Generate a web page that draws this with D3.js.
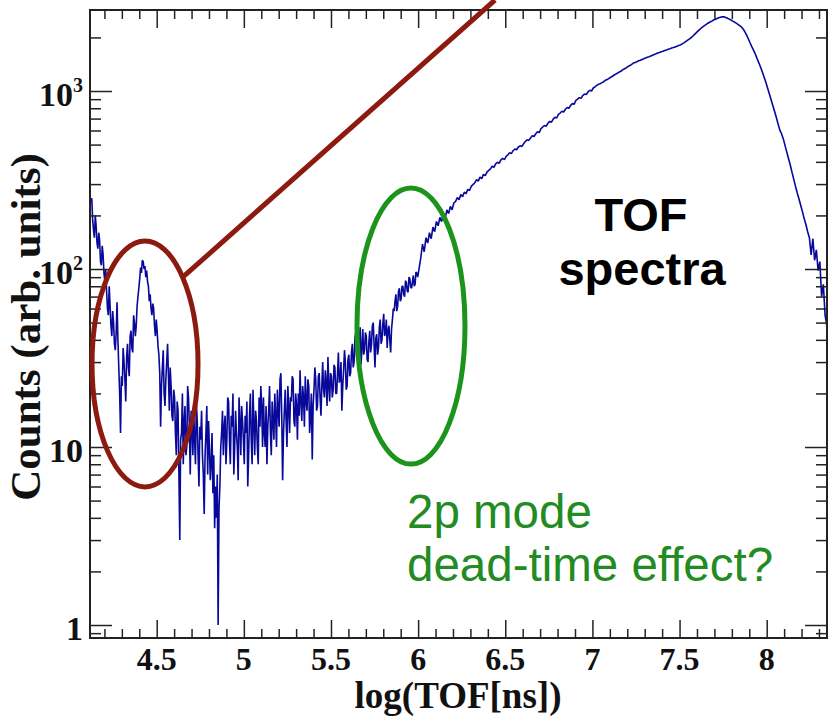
<!DOCTYPE html>
<html>
<head>
<meta charset="utf-8">
<script src="https://cdn.jsdelivr.net/npm/d3@7"></script>
<style>
  body { margin: 0; background: #fff; }
  .axis path { display: none; }
  .axis line { stroke: #222; stroke-width: 1.5; }
  .frame { fill: none; stroke: #222; stroke-width: 2; }
  .tick-label, .axis-title {
    font-family: "Liberation Serif", "Times New Roman", serif;
    font-weight: bold;
    fill: #111;
  }
  .note { font-family: "Liberation Sans", Arial, sans-serif; }
</style>
</head>
<body>
<div id="chart"></div>
<script>
// noisy low-TOF part: bins of 0.005 from 4.12 to 6.00
const fineStart = 4.12;
const fineWidth = 0.005;
const fineCounts = [
  235, 250, 190, 165, 150, 200, 175, 140, 130, 160, 145, 110, 105, 135, 120, 95, 85, 100,
  75, 60, 55, 80, 62, 48, 42, 58, 50, 38, 35, 44, 65, 40, 28, 20, 12, 25, 22, 36,
  30, 24, 18, 32, 38, 28, 25, 42, 45, 36, 34, 55, 50, 42, 48, 62, 70, 78, 88, 102,
  95, 112, 110, 100, 104, 90, 98, 85, 80, 66, 72, 60, 55, 64, 60, 48, 42, 52, 45, 37,
  33, 26, 13, 22, 28, 35, 20, 17, 24, 30, 38, 25, 16, 28, 22, 15, 14, 21, 19, 12,
  9, 18, 16, 7, 3.0, 11, 12, 20, 8, 14, 17, 9, 10, 22, 19, 13, 7, 16, 13, 9,
  16, 11, 8, 18, 14, 9, 6, 13, 11, 16, 9, 7, 4.2, 9, 12, 17, 7, 14, 10, 6.5,
  8, 12, 5.5, 9, 3.5, 6, 4.0, 7, 1.0, 4.5, 6, 10, 12, 16, 9, 13, 15, 8, 11, 19,
  18, 11, 8, 15, 13, 20, 7, 10, 16, 12, 10, 6.5, 19, 14, 9, 17, 14, 11, 8, 15,
  12, 18, 6, 9, 15, 20, 11, 8, 21, 14, 9, 16, 14, 10, 8, 19, 13, 22, 17, 10,
  19, 12, 10, 17, 8, 13, 16, 22, 12, 9, 18, 14, 11, 20, 15, 10, 21, 16, 13, 24,
  26, 15, 6.5, 12, 16, 21, 14, 10, 22, 17, 12, 19, 18, 25, 24, 14, 13, 20, 17, 11,
  20, 15, 27, 18, 14, 22, 19, 13, 25, 18, 16, 24, 22, 12, 15, 20, 8.5, 17, 21, 28,
  24, 16, 17, 25, 26, 19, 15, 22, 30, 21, 19, 27, 23, 17, 32, 22, 18, 26, 25, 19,
  21, 29, 28, 20, 20, 26, 34, 23, 24, 30, 16, 22, 27, 35, 30, 21, 22, 31, 33, 25,
  26, 34, 38, 28, 30, 41, 44, 32, 33, 27, 40, 47, 29, 36, 46, 33, 35, 44, 42, 31,
  30, 39, 45, 34, 38, 48, 50, 37, 28, 41, 43, 33, 36, 47, 52, 38, 40, 49, 56, 42,
  44, 52, 36, 45, 48, 40, 34, 46, 52, 60, 58, 66, 72, 58, 62, 75, 78, 66, 68, 80,
  80, 72, 70, 86, 84, 75, 74, 90, 88, 79, 78, 85, 92, 80, 82, 96, 95, 90
];

// smoother high-TOF part: bins of 0.01 from 6.00
const coarseStart = 6.0;
const coarseWidth = 0.01;
const coarseCounts = [
  100,
  115, 138, 125, 150, 140, 160, 148, 172, 162, 185,
  175, 195, 185, 205, 192, 215, 205, 225, 215, 235,
  240, 252, 245, 262, 255, 270, 265, 280, 276, 292,
  298, 305, 318, 312, 328, 322, 340, 335, 350, 358,
  365, 378, 372, 390, 398, 392, 410, 418, 412, 430,
  438, 450, 445, 462, 472, 468, 485, 492, 488, 505,
  520, 532, 528, 545, 560, 555, 575, 590, 584, 615,
  628, 640, 634, 660, 675, 668, 695, 712, 705, 740,
  752, 770, 762, 790, 808, 800, 830, 850, 842, 885,
  900, 918, 910, 945, 962, 955, 990, 1010, 1000, 1040,
  1055, 1075, 1090, 1100, 1115, 1128, 1150, 1160, 1178, 1195,
  1210, 1230, 1245, 1262, 1280, 1295, 1318, 1335, 1352, 1375,
  1390, 1412, 1436, 1448, 1462, 1478, 1490, 1505, 1520, 1535,
  1548, 1560, 1575, 1590, 1605, 1618, 1634, 1645, 1660, 1672,
  1688, 1700, 1715, 1728, 1745, 1755, 1770, 1785, 1800, 1815,
  1840, 1865, 1895, 1925, 1955, 1990, 2030, 2075, 2120, 2170,
  2215, 2260, 2300, 2340, 2375, 2410, 2440, 2470, 2505, 2530,
  2555, 2580, 2600, 2615, 2610, 2590, 2565, 2535, 2505, 2470,
  2440, 2405, 2370, 2330, 2290, 2230, 2150, 2060, 1960, 1860,
  1770, 1690, 1610, 1520, 1440, 1360, 1280, 1200, 1120, 1040,
  965, 895, 830, 770, 712, 655, 605, 575, 540, 495,
  455, 418, 385, 350, 320, 292, 268, 248, 228, 210,
  192, 178, 162, 150, 120, 148, 112, 128, 98, 110,
  70, 82, 55, 48
];

const xMajorTicks = [4.5, 5, 5.5, 6, 6.5, 7, 7.5, 8];
const xTickLabels = ["4.5", "5", "5.5", "6", "6.5", "7", "7.5", "8"];
const yMajorTicks = [1, 10, 100, 1000];
const yTickBase = ["1", "10", "10", "10"];
const yTickExp = ["", "", "2", "3"];

class TofChart {
  constructor(_config) {
    this.config = {
      parentElement: _config.parentElement,
      containerWidth: 829,
      containerHeight: 716,
      margin: { top: 10, right: 2, bottom: 78, left: 90 },
    };
    this.initVis();
  }

  initVis() {
    let vis = this;
    const m = vis.config.margin;
    vis.width = vis.config.containerWidth - m.left - m.right;
    vis.height = vis.config.containerHeight - m.top - m.bottom;

    vis.xScale = d3.scaleLinear().domain([4.1173, 8.346]).range([0, vis.width]);
    vis.yScale = d3.scaleLog().domain([0.8453, 2852]).range([vis.height, 0]);

    vis.svg = d3
      .select(vis.config.parentElement)
      .append("svg")
      .attr("width", vis.config.containerWidth)
      .attr("height", vis.config.containerHeight);

    vis.chart = vis.svg
      .append("g")
      .attr("transform", `translate(${m.left},${m.top})`);

    vis.svg
      .append("defs")
      .append("clipPath")
      .attr("id", "plot-clip")
      .append("rect")
      .attr("width", vis.width)
      .attr("height", vis.height);

    vis.renderVis();
  }

  renderVis() {
    let vis = this;

    // histogram, one point per bin centre
    const bins = fineCounts
      .map((c, i) => ({ x: fineStart + (i + 0.5) * fineWidth, y: c }))
      .concat(coarseCounts.map((c, i) => ({ x: coarseStart + (i + 0.5) * coarseWidth, y: c })));

    const line = d3
      .line()
      .x((d) => vis.xScale(d.x))
      .y((d) => vis.yScale(d.y));

    vis.chart
      .append("path")
      .datum(bins)
      .attr("clip-path", "url(#plot-clip)")
      .attr("fill", "none")
      .attr("stroke", "#08089a")
      .attr("stroke-width", 1.6)
      .attr("stroke-linejoin", "bevel")
      .attr("d", line);

    // axes: ticks on all four sides, pointing inwards
    const xMinor = d3.range(42, 84).map((d) => d / 10).filter((d) => !xMajorTicks.includes(d));
    const yMinor = vis.yScale.ticks().filter((d) => !yMajorTicks.includes(d));

    const addAxis = (axis, transform) =>
      vis.chart.append("g").attr("class", "axis").attr("transform", transform).call(axis);

    addAxis(d3.axisBottom(vis.xScale).tickValues(xMajorTicks).tickSize(-18).tickFormat(""), `translate(0,${vis.height})`);
    addAxis(d3.axisBottom(vis.xScale).tickValues(xMinor).tickSize(-9).tickFormat(""), `translate(0,${vis.height})`);
    addAxis(d3.axisTop(vis.xScale).tickValues(xMajorTicks).tickSize(-18).tickFormat(""), "translate(0,0)");
    addAxis(d3.axisTop(vis.xScale).tickValues(xMinor).tickSize(-9).tickFormat(""), "translate(0,0)");
    addAxis(d3.axisLeft(vis.yScale).tickValues(yMajorTicks).tickSize(-22).tickFormat(""), "translate(0,0)");
    addAxis(d3.axisLeft(vis.yScale).tickValues(yMinor).tickSize(-11).tickFormat(""), "translate(0,0)");
    addAxis(d3.axisRight(vis.yScale).tickValues(yMajorTicks).tickSize(-22).tickFormat(""), `translate(${vis.width},0)`);
    addAxis(d3.axisRight(vis.yScale).tickValues(yMinor).tickSize(-11).tickFormat(""), `translate(${vis.width},0)`);

    vis.chart
      .append("rect")
      .attr("class", "frame")
      .attr("width", vis.width)
      .attr("height", vis.height);

    // tick labels
    vis.chart
      .selectAll(".x-label")
      .data(xMajorTicks)
      .join("text")
      .attr("class", "tick-label x-label")
      .attr("text-anchor", "middle")
      .attr("x", (d) => vis.xScale(d))
      .attr("y", vis.height + 32)
      .attr("font-size", 32)
      .text((d, i) => xTickLabels[i]);

    const yLabels = vis.chart
      .selectAll(".y-label")
      .data(yMajorTicks)
      .join("text")
      .attr("class", "tick-label y-label")
      .attr("text-anchor", "end")
      .attr("x", -7)
      .attr("y", (d) => vis.yScale(d) + 15)
      .attr("font-size", 34);
    yLabels.append("tspan").text((d, i) => yTickBase[i]);
    yLabels
      .append("tspan")
      .attr("font-size", 20)
      .attr("dy", -14)
      .text((d, i) => yTickExp[i]);

    // axis titles
    vis.svg
      .append("text")
      .attr("class", "axis-title")
      .attr("text-anchor", "middle")
      .attr("x", 458)
      .attr("y", 708)
      .attr("font-size", 37)
      .text("log(TOF[ns])");

    vis.svg
      .append("text")
      .attr("class", "axis-title")
      .attr("text-anchor", "middle")
      .attr("transform", "translate(40,327) rotate(-90)")
      .attr("font-size", 43)
      .text("Counts (arb. units)");

    // annotations
    vis.chart
      .append("ellipse")
      .attr("cx", vis.xScale(4.433))
      .attr("cy", vis.yScale(29.3))
      .attr("rx", 53)
      .attr("ry", 123)
      .attr("fill", "none")
      .attr("stroke", "#8c1a10")
      .attr("stroke-width", 5);

    vis.svg
      .append("line")
      .attr("x1", vis.xScale(4.651) + 90)
      .attr("y1", vis.yScale(90.2) + 10)
      .attr("x2", vis.xScale(6.441) + 90)
      .attr("y2", vis.yScale(3245) + 10)
      .attr("stroke", "#8c1a10")
      .attr("stroke-width", 5);

    vis.chart
      .append("ellipse")
      .attr("cx", vis.xScale(5.959))
      .attr("cy", vis.yScale(47.8))
      .attr("rx", 54)
      .attr("ry", 138)
      .attr("fill", "none")
      .attr("stroke", "#1c941c")
      .attr("stroke-width", 5);

    vis.svg
      .append("text")
      .attr("class", "note")
      .attr("text-anchor", "middle")
      .attr("font-weight", "bold")
      .attr("font-size", 47)
      .attr("x", 641)
      .attr("y", 231)
      .text("TOF");
    vis.svg
      .append("text")
      .attr("class", "note")
      .attr("text-anchor", "middle")
      .attr("font-weight", "bold")
      .attr("font-size", 47)
      .attr("x", 642)
      .attr("y", 285)
      .text("spectra");

    vis.svg
      .append("text")
      .attr("class", "note")
      .attr("font-size", 47.5)
      .attr("fill", "#228b22")
      .attr("x", 407)
      .attr("y", 528)
      .text("2p mode");
    vis.svg
      .append("text")
      .attr("class", "note")
      .attr("font-size", 47.5)
      .attr("fill", "#228b22")
      .attr("x", 407)
      .attr("y", 581)
      .text("dead-time effect?");
  }
}

new TofChart({ parentElement: "#chart" });
</script>
</body>
</html>
